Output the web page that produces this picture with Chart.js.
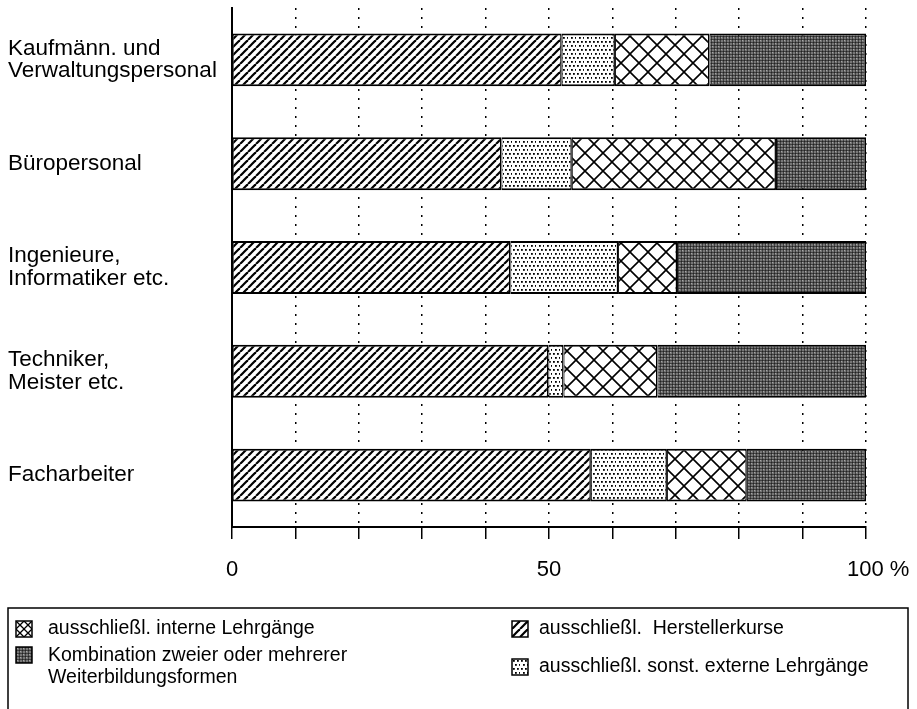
<!DOCTYPE html>
<html>
<head>
<meta charset="utf-8">
<script src="https://cdn.jsdelivr.net/npm/chart.js@4.4.1/dist/chart.umd.min.js"></script>
<style>
  html, body { margin: 0; padding: 0; background: #fff; }
  #chart { display: block; }
</style>
</head>
<body>
<canvas id="chart" width="917" height="709"></canvas>
<script>
// data (percent of each group, left to right)
const categories = [
    ['Kaufmänn. und', 'Verwaltungspersonal'],
    'Büropersonal',
    ['Ingenieure,', 'Informatiker etc.'],
    ['Techniker,', 'Meister etc.'],
    'Facharbeiter'
];
const herstellerkurse = [52.0, 42.5, 43.9, 49.9, 56.6];
const sonstExterne = [8.4, 11.1, 17.0, 2.4, 12.0];
const interne = [14.9, 32.2, 9.3, 14.8, 12.6];
const kombination = [24.7, 14.2, 29.8, 32.9, 18.8];
// the "100" sits on its tick, the "%" hangs to the right
const tickLabels = { 0: '0', 50: '50', 100: '\u00a0\u00a0\u00a0\u00a0100 %' };

const FONT = '"Liberation Sans", Arial, Helvetica, sans-serif';
const canvas = document.getElementById('chart');
const mainCtx = canvas.getContext('2d');

// small tiles used as fill patterns
function makePattern(w, h, draw) {
    const c = document.createElement('canvas');
    c.width = w;
    c.height = h;
    const g = c.getContext('2d');
    g.fillStyle = '#fff';
    g.fillRect(0, 0, w, h);
    draw(g, w, h);
    return mainCtx.createPattern(c, 'repeat');
}

function crossTile(size, lw) {
    return makePattern(size, size, function (g) {
        g.strokeStyle = '#000';
        g.lineWidth = lw;
        g.beginPath();
        g.moveTo(-1, size + 1); g.lineTo(size + 1, -1);
        g.moveTo(-1, -1); g.lineTo(size + 1, size + 1);
        g.stroke();
    });
}

const hatchPattern = makePattern(8, 8, function (g) {
    g.strokeStyle = '#000';
    g.lineWidth = 2.2;
    [-8, 0, 8].forEach(function (x) {
        g.beginPath();
        g.moveTo(x, 8);
        g.lineTo(x + 8, 0);
        g.stroke();
    });
});

const dotPattern = makePattern(8, 8, function (g) {
    g.fillStyle = '#000';
    [[1, 1], [5, 1], [3, 5], [7, 5]].forEach(function (p) {
        g.fillRect(p[0], p[1], 1.8, 1.8);
    });
});

const crossPattern = crossTile(18, 1.6);
const crossIconPattern = crossTile(8, 1.3);

const grayPattern = makePattern(6, 6, function (g) {
    g.fillStyle = '#777';
    g.fillRect(0, 0, 6, 6);
    g.fillStyle = 'rgba(0,0,0,0.45)';
    g.fillRect(0, 0, 6, 1);
    g.fillRect(0, 3, 6, 1);
    g.fillRect(0, 0, 1, 6);
    g.fillRect(3, 0, 1, 6);
    g.fillStyle = 'rgba(255,255,255,0.35)';
    g.fillRect(1, 1, 1, 1);
    g.fillRect(4, 4, 1, 1);
});

// legend entries, two columns as in the original
const legendItems = [
    { lines: ['ausschließl. interne Lehrgänge'], fill: crossIconPattern, x: 16, y: 629, gap: 32 },
    { lines: ['Kombination zweier oder mehrerer', 'Weiterbildungsformen'], fill: grayPattern, x: 16, y: 667, gap: 32 },
    { lines: ['ausschließl.  Herstellerkurse'], fill: hatchPattern, x: 512, y: 629, gap: 27 },
    { lines: ['ausschließl. sonst. externe Lehrgänge'], fill: dotPattern, x: 512, y: 667, gap: 27 }
];

const boxLegend = {
    id: 'boxLegend',
    afterDraw(chart) {
        const ctx = chart.ctx;
        ctx.save();
        ctx.strokeStyle = '#000';
        ctx.lineWidth = 1.5;
        ctx.strokeRect(8, 608, 900, 110);
        ctx.font = '19.5px ' + FONT;
        ctx.textBaseline = 'middle';
        legendItems.forEach(function (item) {
            const top = item.lines.length > 1 ? item.y - 20 : item.y - 8;
            ctx.save();
            ctx.translate(item.x, top);
            ctx.fillStyle = item.fill;
            ctx.fillRect(0, 0, 16, 16);
            ctx.strokeRect(0, 0, 16, 16);
            ctx.restore();
            ctx.fillStyle = '#000';
            const lh = 22;
            const start = item.y - (item.lines.length - 1) * lh / 2;
            item.lines.forEach(function (line, i) {
                ctx.fillText(line, item.x + item.gap, start + i * lh);
            });
        });
        ctx.restore();
    }
};

function segment(label, values, fill) {
    return {
        label: label,
        data: values,
        backgroundColor: fill,
        borderColor: '#000',
        borderWidth: { top: 2, bottom: 2, left: 1, right: 1.5 },
        borderSkipped: false,
        barPercentage: 0.51,
        categoryPercentage: 1.0
    };
}

new Chart(canvas, {
    type: 'bar',
    data: {
        labels: categories,
        datasets: [
            segment('ausschließl. Herstellerkurse', herstellerkurse, hatchPattern),
            segment('ausschließl. sonst. externe Lehrgänge', sonstExterne, dotPattern),
            segment('ausschließl. interne Lehrgänge', interne, crossPattern),
            segment('Kombination zweier oder mehrerer Weiterbildungsformen', kombination, grayPattern)
        ]
    },
    options: {
        indexAxis: 'y',
        responsive: false,
        animation: false,
        layout: { padding: { left: 8, right: 51, top: 8, bottom: 0 } },
        plugins: {
            legend: { display: false },
            tooltip: { enabled: false }
        },
        scales: {
            x: {
                stacked: true,
                min: 0,
                max: 100,
                ticks: {
                    stepSize: 10,
                    autoSkip: false,
                    maxRotation: 0,
                    color: '#000',
                    padding: 18,
                    font: { family: FONT, size: 22 },
                    callback: function (v) { return tickLabels[v] ?? ''; }
                },
                grid: {
                    color: '#000',
                    lineWidth: 1.5,
                    tickBorderDash: [],
                    tickColor: '#000',
                    tickWidth: 1.5,
                    tickLength: 12
                },
                border: { color: '#000', width: 2, dash: [2, 7] },
                afterFit: function (s) {
                    s.height = 182;
                    s.paddingLeft = 0;
                    s.paddingRight = 0;
                }
            },
            y: {
                stacked: true,
                ticks: {
                    crossAlign: 'far',
                    color: '#000',
                    font: { family: FONT, size: 22.5, lineHeight: 1.0 }
                },
                grid: { display: false },
                border: { color: '#000', width: 2 },
                afterFit: function (s) {
                    s.width = 224;
                    s.paddingTop = 0;
                    s.paddingBottom = 0;
                }
            }
        }
    },
    plugins: [boxLegend]
});
</script>
</body>
</html>
